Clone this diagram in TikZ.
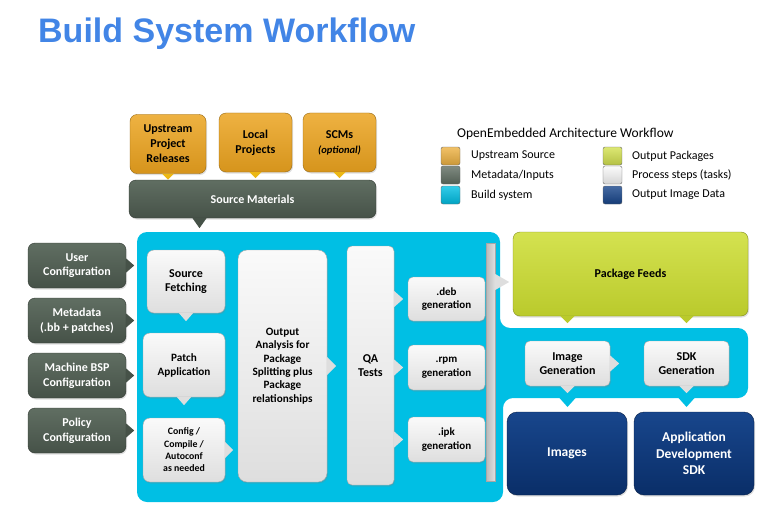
\documentclass[tikz,border=0pt]{standalone}
\usepackage{fontspec}
\setmainfont{Carlito}
\newfontfamily\titlefont{Liberation Sans}
\usetikzlibrary{shadows}

\definecolor{srcgold}{RGB}{238,178,66}
\definecolor{srcgolddk}{RGB}{214,148,28}
\definecolor{srctip}{RGB}{236,184,20}
\definecolor{metagray}{RGB}{96,110,98}
\definecolor{metagraydk}{RGB}{70,82,72}
\definecolor{buildcyan}{RGB}{0,191,228}
\definecolor{feedgreen}{RGB}{212,226,80}
\definecolor{feedgreendk}{RGB}{186,202,44}
\definecolor{imgnavy}{RGB}{24,70,140}
\definecolor{imgnavydk}{RGB}{10,46,104}
\definecolor{taskwhite}{RGB}{250,250,250}
\definecolor{taskgray}{RGB}{222,222,222}
\definecolor{titleblue}{RGB}{66,133,230}

\tikzset{
  base/.style={rounded corners=7pt, align=center, inner sep=0pt,
    drop shadow={opacity=0.25, shadow xshift=1pt, shadow yshift=-1.5pt}},
  srcbox/.style={base, draw=srcgolddk!70!black, top color=srcgold, bottom color=srcgolddk,
    text=black, font=\bfseries\fontsize{12}{15}\selectfont},
  metabox/.style={base, draw=metagraydk!70!black, top color=metagray, bottom color=metagraydk,
    text=white, font=\bfseries\fontsize{12}{14.7}\selectfont},
  taskbox/.style={base, draw=gray!70, top color=taskwhite, bottom color=taskgray,
    text=black, font=\bfseries\fontsize{11.5}{14}\selectfont},
  feedbox/.style={base, draw=feedgreendk!70!black, top color=feedgreen, bottom color=feedgreendk,
    text=black, font=\bfseries\fontsize{12}{15}\selectfont},
  imgbox/.style={base, rounded corners=10pt, draw=imgnavydk!70!black, top color=imgnavy, bottom color=imgnavydk,
    text=white, font=\bfseries\fontsize{13.5}{16.5}\selectfont},
  legsq/.style={rounded corners=2pt, draw=black!60, minimum width=19pt, minimum height=18pt, inner sep=0pt},
  legtxt/.style={anchor=west, inner sep=0pt, font=\fontsize{12}{14}\selectfont},
  tipw/.style={fill=taskgray},
}

\begin{document}
\begin{tikzpicture}[x=1pt, y=-1pt]
\useasboundingbox (0,0) rectangle (781,524);

% title
\node[anchor=base west, inner sep=0pt, text=titleblue, font=\titlefont\bfseries\fontsize{34}{40}\selectfont] (title) at (38,43) {Build System Workflow};

% build system panel
\fill[buildcyan, rounded corners=10pt] (137,232) -- (500,232) -- (500,328) -- (748,328) -- (748,398)
  -- (503,398) -- (503,502) -- (137,502) -- cycle;
\coordinate (bandimg) at (567.5,398);
\coordinate (bandsdk) at (686.5,398);

% upstream sources
\node[srcbox, minimum width=76pt, minimum height=59pt] (upr) at (168,144) {Upstream\\Project\\Releases};
\node[srcbox, minimum width=73pt, minimum height=59pt] (loc) at (255.5,142.5) {Local\\Projects};
\node[srcbox, minimum width=73pt, minimum height=59pt] (scm) at (339.5,142.5) {SCMs\\{\itshape\fontsize{10.5}{13}\selectfont (optional)}};
\foreach \n in {upr,loc,scm}
  \fill[srctip] (\n.south) ++(-6,0) -- ++(12,0) -- ++(-6,6) -- cycle;

\node[metabox, minimum width=247pt, minimum height=38pt] (srcm) at (252.5,199) {Source Materials};
\fill[metagraydk] (srcm.south) ++(-60,0) -- ++(14,0) -- ++(-7,10) -- cycle;

% metadata inputs
\node[metabox, minimum width=98pt, minimum height=45pt] (usercfg) at (77,265.5) {User\\Configuration};
\node[metabox, minimum width=98pt, minimum height=45pt] (meta) at (77,320.5) {Metadata\\(.bb + patches)};
\node[metabox, minimum width=98pt, minimum height=45pt] (bsp) at (77,375.5) {Machine BSP\\Configuration};
\node[metabox, minimum width=98pt, minimum height=45pt] (policy) at (77,430.5) {Policy\\Configuration};
\foreach \n in {usercfg,meta,bsp,policy}
  \fill[metagraydk] (\n.east) ++(0,-7) -- ++(0,14) -- ++(8,-7) -- cycle;

% tasks
\node[taskbox, minimum width=78pt, minimum height=63pt, font=\bfseries\fontsize{12}{14}\selectfont] (fetch) at (186,281.5) {Source\\Fetching};
\node[taskbox, minimum width=82pt, minimum height=64pt, font=\bfseries\fontsize{11.2}{14}\selectfont] (patch) at (184,365) {Patch\\Application};
\node[taskbox, minimum width=82pt, minimum height=64pt, font=\bfseries\fontsize{9.8}{12.3}\selectfont] (compile) at (184,450) {Config /\\Compile /\\Autoconf\\as needed};
\node[taskbox, minimum width=89pt, minimum height=232pt, rounded corners=9pt, font=\bfseries\fontsize{11.2}{13.3}\selectfont] (analysis) at (282.5,366) {Output\\Analysis for\\Package\\Splitting plus\\Package\\relationships};
\node[taskbox, minimum width=47pt, minimum height=239pt, rounded corners=5pt, font=\bfseries\fontsize{12}{14}\selectfont] (qa) at (370.5,365.5) {QA\\Tests};
\node[taskbox, minimum width=77pt, minimum height=44pt, rounded corners=5pt, font=\bfseries\fontsize{11}{13.5}\selectfont] (deb) at (446.5,299) {.deb\\generation};
\node[taskbox, minimum width=77pt, minimum height=45pt, rounded corners=5pt, font=\bfseries\fontsize{11}{13.5}\selectfont] (rpm) at (446.5,367.5) {.rpm\\generation};
\node[taskbox, minimum width=77pt, minimum height=45pt, rounded corners=5pt, font=\bfseries\fontsize{11}{13.5}\selectfont] (ipk) at (446.5,439.5) {.ipk\\generation};
\node[draw=gray!70, left color=gray!55, right color=gray!25, minimum width=9pt, minimum height=238pt, inner sep=0pt] (bar) at (490.5,362) {};

\foreach \n in {fetch,patch}
  \fill[tipw] (\n.south) ++(-7,0) -- ++(14,0) -- ++(-7,8) -- cycle;
\fill[tipw] (compile.east) ++(0,-8) -- ++(0,16) -- ++(8,-8) -- cycle;
\fill[tipw] (analysis.east) ++(0,-9) -- ++(0,18) -- ++(9,-9) -- cycle;
\foreach \n in {deb,rpm,ipk}
  \fill[tipw] (qa.east |- \n.center) ++(0,-8) -- ++(0,16) -- ++(9,-8) -- cycle;
\fill[tipw] (bar.east |- 0,282) ++(0,-8) -- ++(0,16) -- ++(14,-8) -- cycle;

% outputs
\node[feedbox, minimum width=235pt, minimum height=84pt] (feeds) at (630.5,274) {Package Feeds};
\node[taskbox, minimum width=85pt, minimum height=45pt, rounded corners=5pt, font=\bfseries\fontsize{12}{14.5}\selectfont] (imggen) at (567.5,363.5) {Image\\Generation};
\node[taskbox, minimum width=85pt, minimum height=45pt, rounded corners=5pt, font=\bfseries\fontsize{12}{14.5}\selectfont] (sdkgen) at (686.5,363.5) {SDK\\Generation};
\node[imgbox, minimum width=120pt, minimum height=83pt] (images) at (567,453.5) {Images};
\node[imgbox, minimum width=120pt, minimum height=83pt] (appsdk) at (694,453.5) {Application\\Development\\SDK};

\foreach \n in {imggen,sdkgen}
  \fill[feedgreendk] (feeds.south -| \n.center) ++(-7,0) -- ++(14,0) -- ++(-7,7) -- cycle;
\fill[tipw] (imggen.east) ++(0,-8) -- ++(0,16) -- ++(9,-8) -- cycle;
\foreach \n in {imggen,sdkgen}
  \fill[tipw] (\n.south) ++(-7,0) -- ++(14,0) -- ++(-7,7) -- cycle;
\foreach \c in {bandimg,bandsdk}
  \fill[buildcyan] (\c) ++(-8,0) -- ++(16,0) -- ++(-8,9) -- cycle;

% legend
\node[anchor=west, inner sep=0pt, font=\fontsize{13.5}{16}\selectfont] (legtitle) at (457,133.5) {OpenEmbedded Architecture Workflow};
\foreach \col/\txt/\y [count=\i] in {srcgold/Upstream Source/156, metagray/Metadata\slash Inputs/175, buildcyan/Build system/195}{
  \node[legsq, top color=\col!80!white, bottom color=\col!85!black] (lsa\i) at (450.5,\y) {};
  \node[legtxt] (lta\i) at (471,\y) {\txt};
}
\foreach \col/\txt/\y [count=\i] in {feedgreen/Output Packages/156, taskwhite/Process steps (tasks)/175, imgnavy/Output Image Data/195}{
  \node[legsq, top color=\col!80!white, bottom color=\col!85!black] (lsb\i) at (612.5,\y) {};
  \node[legtxt] (ltb\i) at (632,\y) {\txt};
}
\end{tikzpicture}
\end{document}
